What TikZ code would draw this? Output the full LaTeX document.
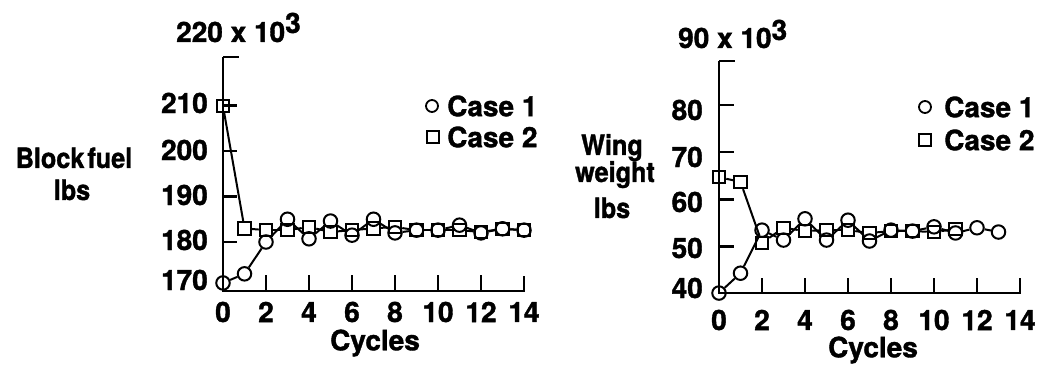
\documentclass[tikz,border=0pt]{standalone}
\usepackage{fontspec}
\setmainfont{TeX Gyre Heros}[BoldFeatures={FakeBold=1.3}]
\newfontfamily\condfont{TeX Gyre Heros}[FakeStretch=0.9, BoldFeatures={FakeBold=1.3}]
\begin{document}
\begin{tikzpicture}[x=1pt,y=1pt,
  txt/.style={font=\fontsize{28}{30}\selectfont\bfseries, inner sep=0pt},
  lab/.style={font=\fontsize{28}{30}\selectfont\condfont\bfseries, inner sep=0pt},
  axisline/.style={line width=2.4pt},
  conn/.style={line width=2pt},
  mkc/.style={circle, draw, line width=2pt, minimum size=13.5pt, inner sep=0pt},
  mks/.style={rectangle, draw, line width=2pt, minimum size=12.5pt, inner sep=0pt},
  lgc/.style={circle, draw, line width=1.8pt, minimum size=12pt, inner sep=0pt},
  lgs/.style={rectangle, draw, line width=1.8pt, minimum size=11.5pt, inner sep=0pt}]
\useasboundingbox (0,0) rectangle (1041,366);

% ---------------- Left plot: Block fuel ----------------
\begin{scope}[shift={(223,78.5)}, x=21.5pt, y=4.55pt]
  \draw[axisline] (0,50.66) -- (0,-0.77) -- (14,-0.77) -- ++(0,15pt);
  \draw[axisline] (0,50.66) -- ++(16pt,0);
  \foreach \v in {10,20,30,40} \draw[axisline] (0,\v) -- ++(14pt,0);
  \foreach \c in {2,4,...,12} \draw[axisline] (\c,-0.77) -- ++(0,16pt);
  % Case 2 squares
  \foreach \c/\v in {0/39.9,1/13,2/12.6,3/12.6,4/13.3,5/12.2,6/12.6,7/13,8/13.3,9/12.6,10/12.6,11/12.6,12/12.2,13/12.9,14/12.6}
    \node[mks] (ls\c) at (\c,\v) {};
  % Case 1 circles
  \foreach \c/\v in {0/1,1/3,2/10,3/15,4/10.7,5/14.6,6/11.5,7/15,8/12,9/12.6,10/12.6,11/13.7,12/12,13/12.9,14/12.6}
    \node[mkc] (lc\c) at (\c,\v) {};
  \foreach \i [remember=\i as \j (initially 0)] in {1,...,14} {
    \draw[conn] (ls\j) -- (ls\i);
    \draw[conn] (lc\j) -- (lc\i);
  }
\end{scope}

\node[txt, anchor=base west] (ltitle) at (176,324) {220 x 10\raisebox{9pt}{3}};
\node[lab, anchor=base] (lyl1) at (74,198) {Block\hspace{3pt}fuel};
\node[lab, anchor=base] (lyl2) at (72,166) {lbs};
\node[txt, anchor=east] (ly210) at (208,263) {210};
\node[txt, anchor=east] (ly200) at (208,216) {200};
\node[txt, anchor=east] (ly190) at (208,171) {190};
\node[txt, anchor=east] (ly180) at (208,126) {180};
\node[txt, anchor=east] (ly170) at (208,86) {170};
\foreach \c in {0,2,...,14}
  \node[txt] (lx\c) at (223+21.5*\c,54) {\c};
\node[txt] (lcyc) at (375,23) {Cycles};
\node[lgc] (llc) at (432,260) {};
\node[txt, anchor=west] (llt1) at (447,260) {Case 1};
\node[lgs] (lls) at (433,229) {};
\node[txt, anchor=west] (llt2) at (447,229) {Case 2};

% ---------------- Right plot: Wing weight ----------------
\begin{scope}[shift={(719,72)}, x=21.5pt, y=4.73pt]
  \draw[axisline] (0,49.26) -- (0,0.21) -- (14,0.21) -- ++(0,15pt);
  \draw[axisline] (0,49.26) -- ++(16pt,0);
  \foreach \v in {10,20,30,40} \draw[axisline] (0,\v) -- ++(15pt,0);
  \foreach \c in {2,4,...,12} \draw[axisline] (\c,0.21) -- ++(0,15pt);
  % Case 2 squares
  \foreach \c/\v in {0/24.7,1/23.7,2/10.8,3/14,4/13.3,5/13.5,6/13.5,7/12.9,8/13.3,9/13.3,10/13.1,11/13.7}
    \node[mks] (rs\c) at (\c,\v) {};
  % Case 1 circles
  \foreach \c/\v in {0/0.2,1/4.4,2/13.5,3/11.4,4/15.9,5/11.4,6/15.6,7/11.2,8/13.5,9/13.3,10/14.2,11/12.9,12/14,13/13.1}
    \node[mkc] (rc\c) at (\c,\v) {};
  \foreach \i [remember=\i as \j (initially 0)] in {1,...,11}
    \draw[conn] (rs\j) -- (rs\i);
  \foreach \i [remember=\i as \j (initially 0)] in {1,...,13}
    \draw[conn] (rc\j) -- (rc\i);
\end{scope}

\node[txt, anchor=base west] (rtitle) at (678,318) {90 x 10\raisebox{8pt}{3}};
\node[lab, anchor=base] (ryl1) at (612,211) {Wing};
\node[lab, anchor=base] (ryl2) at (615,184) {weight};
\node[lab, anchor=base] (ryl3) at (612,148) {lbs};
\node[txt, anchor=east] (ry80) at (703,256) {80};
\node[txt, anchor=east] (ry70) at (703,209) {70};
\node[txt, anchor=east] (ry60) at (703,164) {60};
\node[txt, anchor=east] (ry50) at (703,118) {50};
\node[txt, anchor=east] (ry40) at (703,78) {40};
\foreach \c in {0,2,...,14}
  \node[txt] (rx\c) at (719+21.5*\c,46) {\c};
\node[txt] (rcyc) at (873,16) {Cycles};
\node[lgc] (rlc) at (925,259) {};
\node[txt, anchor=west] (rlt1) at (944,259) {Case 1};
\node[lgs] (rls) at (925,226) {};
\node[txt, anchor=west] (rlt2) at (944,226) {Case 2};
\end{tikzpicture}
\end{document}
